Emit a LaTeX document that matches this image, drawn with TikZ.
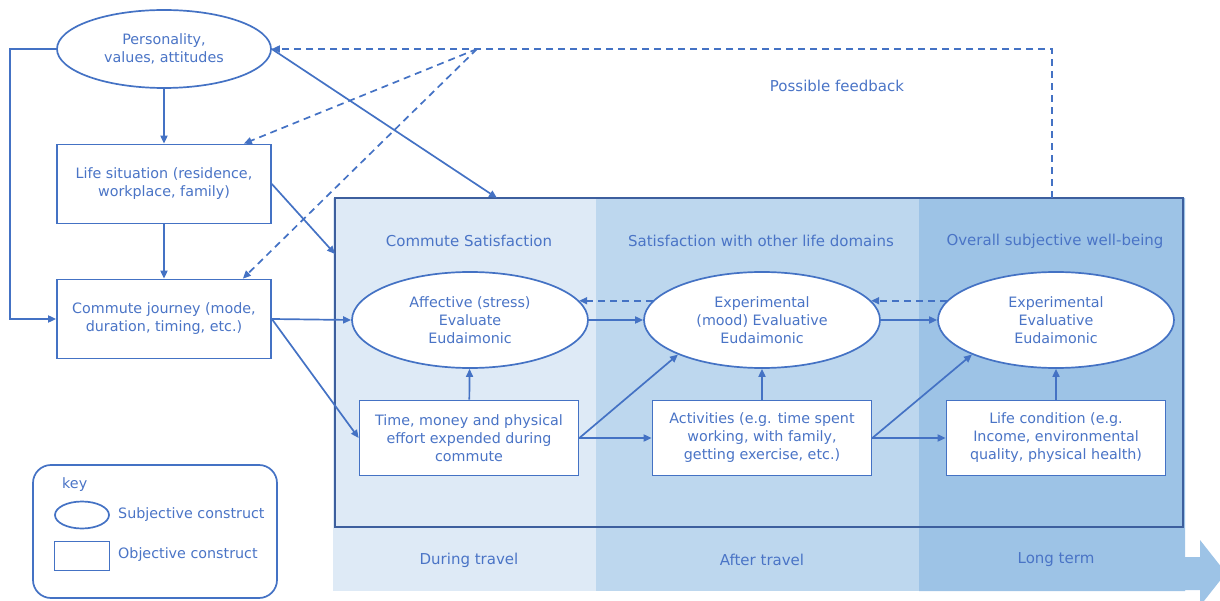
\documentclass[tikz,border=0pt]{standalone}
\usepackage{fontspec}
\setmainfont{DejaVu Sans}
\usetikzlibrary{arrows.meta,shapes.geometric}
\definecolor{lnblue}{HTML}{4472C4}
\definecolor{txblue}{HTML}{4A74C6}
\definecolor{frblue}{HTML}{3D5F9E}
\definecolor{colA}{HTML}{DEEAF6}
\definecolor{colB}{HTML}{BDD7EE}
\definecolor{colC}{HTML}{9DC3E6}
\begin{document}
\begin{tikzpicture}[x=1pt, y=-1pt, font=\fontsize{14.3}{18}\selectfont,
    >={Triangle[length=8pt,width=7pt]}, line width=1.7pt]
    \tikzset{
      subj/.style={ellipse, draw=lnblue, fill=white, text=txblue, inner sep=0pt, align=center},
      obj/.style={draw=lnblue, fill=white, text=txblue, inner sep=0pt, align=center},
      hdr/.style={text=txblue, font=\fontsize{15}{18}\selectfont},
      conn/.style={draw=lnblue, ->},
      fb/.style={draw=lnblue, ->, dash pattern=on 7pt off 5pt},
    }
    \useasboundingbox (0,0) rectangle (1220,601);

    % time bands
    \fill[colA] (333,198) rectangle (596,591);
    \fill[colB] (596,198) rectangle (919,591);
    \fill[colC] (919,198) -- (1185,198) -- (1185,557) -- (1200,557) -- (1200,540)
      -- (1226,573) -- (1200,606) -- (1200,590) -- (1185,590) -- (1185,591)
      -- (919,591) -- cycle;
    \node[draw=frblue, line width=2pt, minimum width=848pt, minimum height=329pt,
      inner sep=0pt] (frame) at (759,362.5) {};

    \node[hdr] (hdrA) at (469,241) {Commute Satisfaction};
    \node[hdr] (hdrB) at (761,241) {Satisfaction with other life domains};
    \node[hdr] (hdrC) at (1055,241) {Overall subjective well-being};
    \node[hdr] (tA) at (469,560) {During travel};
    \node[hdr] (tB) at (762,560) {After travel};
    \node[hdr] (tC) at (1056,560) {Long term};
    \node[hdr] (fbl) at (837,86) {Possible feedback};

    \node[subj, minimum width=214pt, minimum height=78pt] (pers) at (164,49)
      {Personality,\\values, attitudes};
    \node[obj, minimum width=214pt, minimum height=79pt] (life) at (164,184)
      {Life situation (residence,\\workplace, family)};
    \node[obj, minimum width=214pt, minimum height=79pt] (comm) at (164,319)
      {Commute journey (mode,\\duration, timing, etc.)};

    \node[subj, minimum width=236pt, minimum height=96pt] (aff) at (470,320)
      {Affective (stress)\\Evaluate\\Eudaimonic};
    \node[subj, minimum width=236pt, minimum height=96pt] (exp) at (762,320)
      {Experimental\\(mood) Evaluative\\Eudaimonic};
    \node[subj, minimum width=236pt, minimum height=96pt] (swb) at (1056,320)
      {Experimental\\Evaluative\\Eudaimonic};

    \node[obj, minimum width=219pt, minimum height=75pt] (cost) at (469,438)
      {Time, money and physical\\effort expended during\\commute};
    \node[obj, minimum width=219pt, minimum height=75pt] (act) at (762,438)
      {Activities (e.g. time spent\\working, with family,\\getting exercise, etc.)};
    \node[obj, minimum width=219pt, minimum height=75pt] (cond) at (1056,438)
      {Life condition (e.g.\\Income, environmental\\quality, physical health)};

    \coordinate (inTop) at (497,198);
    \coordinate (inSide) at (335,254);
    \coordinate (fbfoot) at (1052,198);
    \coordinate (fbjoin) at (477,49);

    \draw[conn] (pers) -- (life);
    \draw[conn] (life) -- (comm);
    \draw[conn] (pers.west) -- ++(-46,0) |- (comm.west);
    \draw[conn] (pers.east) -- (inTop);
    \draw[conn] (life.east) -- (inSide);
    \draw[conn] (comm.east) -- (aff.west);
    \draw[conn] (comm.east) -- (cost.west);

    \draw[conn] (aff) -- (exp);
    \draw[conn] (exp) -- (swb);
    \draw[conn] (cost) -- (aff);
    \draw[conn] (act) -- (exp);
    \draw[conn] (cond) -- (swb);
    \draw[conn] (cost.east) -- (act.west);
    \draw[conn] (cost.east) -- (exp.south west);
    \draw[conn] (act.east) -- (cond.west);
    \draw[conn] (act.east) -- (swb.south west);

    \draw[fb] (exp.170) -- (aff.10);
    \draw[fb] (swb.170) -- (exp.10);
    \draw[fb] (fbfoot) |- (pers.east);
    \draw[fb] (fbjoin) -- ([xshift=-28pt]life.north east);
    \draw[fb] (fbjoin) -- ([xshift=-29pt]comm.north east);

    % key
    \node[draw=lnblue, rounded corners=18pt, minimum width=244pt, minimum height=133pt]
      (keybox) at (155,531.5) {};
    \node[text=txblue, anchor=west] (keyT) at (58,485) {key};
    \node[subj, minimum width=54pt, minimum height=27pt] (keyS) at (82,515) {};
    \node[obj, minimum width=55pt, minimum height=29pt] (keyO) at (82,556) {};
    \node[text=txblue, anchor=west] (keySl) at (114,515) {Subjective construct};
    \node[text=txblue, anchor=west] (keyOl) at (114,555) {Objective construct};
  \end{tikzpicture}
\end{document}
